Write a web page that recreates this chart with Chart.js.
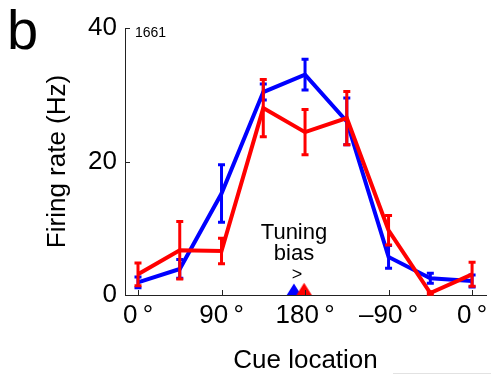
<!DOCTYPE html>
<html>
<head>
<meta charset="utf-8">
<script src="https://cdn.jsdelivr.net/npm/chart.js@4.4.1/dist/chart.umd.min.js"></script>
<style>
  html, body { margin: 0; padding: 0; background: #fff; }
  #wrap { width: 491px; height: 374px; }
</style>
</head>
<body>
<div id="wrap"><canvas id="tuningChart" width="491" height="374"></canvas></div>
<script>
const cueAngles = [0, 45, 90, 135, 180, 225, 270, 315, 360];
const blueRate = [1.9, 3.9, 15.2, 30.4, 33.0, 26.0, 5.7, 2.5, 2.1];
const blueErr  = [0.8, 1.4, 4.3, 1.2, 2.3, 3.5, 1.7, 0.75, 0.9];
const redRate  = [3.1, 6.7, 6.6, 28.0, 24.4, 26.5, 9.7, 0.3, 3.1];
const redErr   = [1.7, 4.3, 1.9, 4.3, 3.4, 4.0, 2.2, 0.2, 1.8];
const xTicks = [0, 90, 180, 270, 360];
const xTickLabels = ['0\u2009°', '90\u2009°', '180\u2009°', '\u201390\u2009°', '0\u2009°'];
const yTicks = [0, 20, 40];
const biasBlue = 168;
const biasRed = 179;

const FONT = "'Liberation Sans', Arial, Helvetica, sans-serif";

function pts(vals) {
  return cueAngles.map((a, i) => ({ x: a, y: vals[i] }));
}

// triangle marker whose base sits on the data point
function triangleImage(color, r) {
  const w = Math.ceil(r * 2), h = Math.ceil(r * 2.4);
  const c = document.createElement('canvas');
  c.width = w; c.height = h * 2;
  const g = c.getContext('2d');
  g.fillStyle = color;
  g.beginPath();
  g.moveTo(w / 2, h - r * 1.45);
  g.lineTo(w / 2 + r * 0.9, h);
  g.lineTo(w / 2 - r * 0.9, h);
  g.closePath();
  g.fill();
  return c;
}

const errorBars = {
  id: 'errorBars',
  afterDatasetDraw(chart, args) {
    const ds = chart.data.datasets[args.index];
    if (!ds.errors) return;
    const { ctx, scales: { x, y } } = chart;
    ctx.save();
    ctx.strokeStyle = ds.borderColor;
    ctx.lineWidth = 3;
    ds.data.forEach((p, i) => {
      const px = x.getPixelForValue(p.x);
      const top = y.getPixelForValue(p.y + ds.errors[i]);
      const bot = y.getPixelForValue(p.y - ds.errors[i]);
      ctx.beginPath();
      ctx.moveTo(px, top); ctx.lineTo(px, bot);
      ctx.moveTo(px - 3.5, top); ctx.lineTo(px + 3.5, top);
      ctx.moveTo(px - 3.5, bot); ctx.lineTo(px + 3.5, bot);
      ctx.stroke();
    });
    ctx.restore();
  }
};

const decorations = {
  id: 'decorations',
  afterDraw(chart) {
    const { ctx, scales: { x, y } } = chart;
    ctx.save();
    // inward tick marks
    ctx.strokeStyle = '#222';
    ctx.lineWidth = 1;
    const x0 = x.left, y0 = y.bottom;
    yTicks.forEach(v => {
      const py = Math.round(y.getPixelForValue(v)) + 0.5;
      ctx.beginPath(); ctx.moveTo(x0, py); ctx.lineTo(x0 + 5, py); ctx.stroke();
    });
    xTicks.forEach(v => {
      const px = Math.round(x.getPixelForValue(v)) + 0.5;
      ctx.beginPath(); ctx.moveTo(px, y0); ctx.lineTo(px, y0 - 5); ctx.stroke();
    });

    ctx.fillStyle = '#000';
    ctx.textAlign = 'left';
    ctx.textBaseline = 'alphabetic';
    ctx.font = '56px ' + FONT;
    ctx.fillText('b', 7, 49);
    ctx.font = '14px ' + FONT;
    ctx.fillText('1661', 135, 37);

    const bx = x.getPixelForValue((biasBlue + biasRed) / 2);
    ctx.textAlign = 'center';
    ctx.font = '22px ' + FONT;
    ctx.fillText('Tuning', bx - 5, 239);
    ctx.fillText('bias', bx - 5, 260);
    ctx.font = '18px ' + FONT;
    ctx.fillText('>', bx - 2, 280);

    ctx.strokeStyle = '#e2e2e2';
    ctx.beginPath(); ctx.moveTo(393, 373.5); ctx.lineTo(491, 373.5); ctx.stroke();
    ctx.restore();
  }
};

new Chart(document.getElementById('tuningChart'), {
  type: 'line',
  data: {
    datasets: [
      {
        label: 'red',
        data: pts(redRate),
        errors: redErr,
        borderColor: '#ff0000',
        borderWidth: 4,
        pointRadius: 0,
        tension: 0,
        order: 1
      },
      {
        label: 'blue',
        data: pts(blueRate),
        errors: blueErr,
        borderColor: '#0000ff',
        borderWidth: 4,
        pointRadius: 0,
        tension: 0,
        order: 2
      },
      {
        label: 'red bias',
        type: 'scatter',
        data: [{ x: biasRed, y: 0 }],
        pointStyle: triangleImage('#ff0000', 8.5),
        clip: false,
        order: 0
      },
      {
        label: 'blue bias',
        type: 'scatter',
        data: [{ x: biasBlue, y: 0 }],
        pointStyle: triangleImage('#0000ff', 8),
        clip: false,
        order: 0.5
      }
    ]
  },
  options: {
    responsive: false,
    animation: false,
    layout: { padding: { top: 28, right: 3, left: 0, bottom: 0 } },
    plugins: { legend: { display: false }, tooltip: { enabled: false } },
    scales: {
      x: {
        type: 'linear',
        min: -14,
        max: 375,
        grid: { display: false, drawTicks: false },
        border: { display: true, color: '#222', width: 1 },
        afterBuildTicks: s => { s.ticks = xTicks.map(v => ({ value: v })); },
        afterFit: s => { s.height = 79; s.paddingLeft = 0; s.paddingRight = 0; },
        ticks: {
          padding: 8,
          maxRotation: 0,
          autoSkip: false,
          color: '#000',
          font: { family: FONT, size: 26, lineHeight: 1 },
          callback: v => xTickLabels[xTicks.indexOf(v)]
        },
        title: {
          display: true,
          text: 'Cue location',
          color: '#000',
          font: { family: FONT, size: 26, lineHeight: 1 },
          padding: { top: 0, bottom: 0 }
        }
      },
      y: {
        min: 0,
        max: 40,
        grid: { display: false, drawTicks: false },
        border: { display: true, color: '#222', width: 1 },
        afterBuildTicks: s => { s.ticks = yTicks.map(v => ({ value: v })); },
        afterFit: s => { s.width = 125; s.paddingTop = 0; s.paddingBottom = 0; },
        ticks: {
          padding: 8,
          color: '#000',
          font: { family: FONT, size: 26, lineHeight: 1 }
        },
        title: {
          display: true,
          text: 'Firing rate (Hz)',
          color: '#000',
          font: { family: FONT, size: 26, lineHeight: 1 },
          padding: { top: 45, bottom: 0 }
        }
      }
    }
  },
  plugins: [errorBars, decorations]
});
</script>
</body>
</html>
